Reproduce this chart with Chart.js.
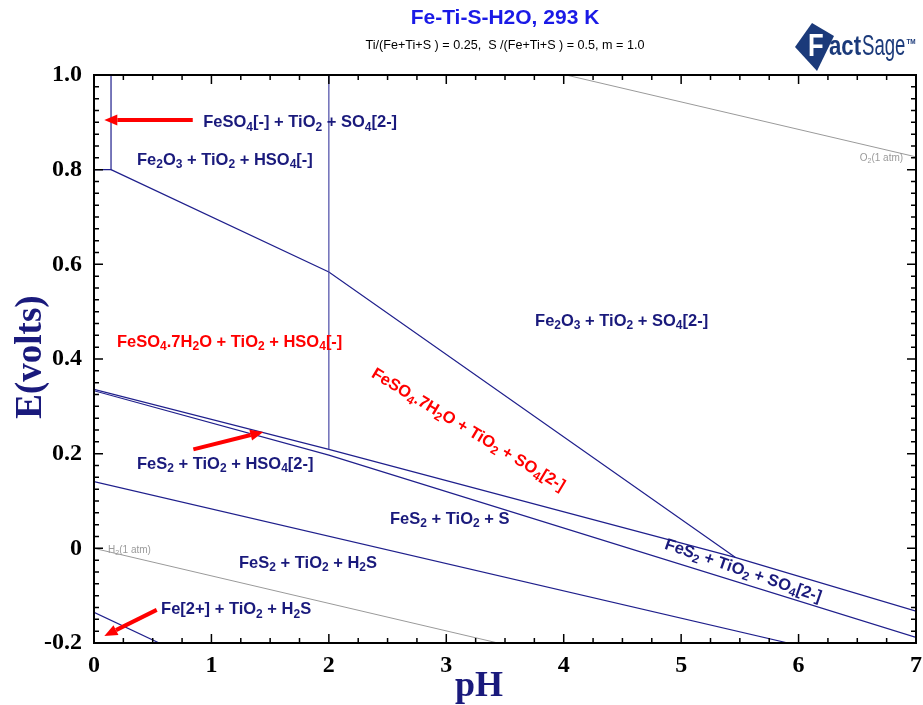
<!DOCTYPE html>
<html>
<head>
<meta charset="utf-8">
<title>Fe-Ti-S-H2O, 293 K</title>
<script src="https://cdn.jsdelivr.net/npm/chart.js@4.4.1/dist/chart.umd.min.js"></script>
<style>
  html, body { margin: 0; padding: 0; background: #fff; }
</style>
</head>
<body>
<canvas id="myChart" width="923" height="705"></canvas>
<script>
const ctx = document.getElementById('myChart');

// phase boundaries as [pH, E] pairs
const fe2o3Corner = [[0, 0.8], [0.145, 0.8], [0.145, 1.0]];
const fe2o3Lower = [[0.145, 0.8], [2.0, 0.584], [5.46, -0.019]];
const hso4Split = [[2.0, 1.0], [2.0, 0.209]];
const pyriteUpper = [[0, 0.336], [2.0, 0.209], [5.46, -0.019], [7.0, -0.1325]];
const pyriteLower = [[0, 0.333], [2.0, 0.197], [7.0, -0.188]];
const sulfurLower = [[0, 0.141], [5.91, -0.2]];
const ferrousLine = [[0, -0.135], [0.555, -0.2]];
const h2Line = [[0, 0], [3.44, -0.2]];
const o2Line = [[4.02, 1.0], [7.0, 0.827]];

// axis ticks
const pHTicks = [0, 1, 2, 3, 4, 5, 6, 7];
const eTicks = [-0.2, 0, 0.2, 0.4, 0.6, 0.8, 1.0];

// field names, {..} marks a subscript
const fieldNames = [
  'FeSO{4}[-] + TiO{2} + SO{4}[2-]',
  'Fe{2}O{3} + TiO{2} + HSO{4}[-]',
  'Fe{2}O{3} + TiO{2} + SO{4}[2-]',
  'FeSO{4}.7H{2}O + TiO{2} + HSO{4}[-]',
  'FeSO{4}.7H{2}O + TiO{2} + SO{4}[2-]',
  'FeS{2} + TiO{2} + HSO{4}[2-]',
  'FeS{2} + TiO{2} + S',
  'FeS{2} + TiO{2} + H{2}S',
  'Fe[2+] + TiO{2} + H{2}S',
  'FeS{2} + TiO{2} + SO{4}[2-]'
];
const fieldPH = [0.93, 0.366, 3.756, 0.196, 3.186, 0.366, 2.521, 1.235, 0.571, 5.528];
const fieldE = [0.899, 0.820, 0.480, 0.436, 0.250, 0.178, 0.062, -0.031, -0.130, -0.048];

// arrows: tail [pH, E] -> tip [pH, E]
const arrowTails = [[0.841, 0.905], [0.846, 0.209], [0.534, -0.130]];
const arrowTips = [[0.088, 0.905], [1.442, 0.246], [0.088, -0.185]];

const NAVY = '#1f1f8c';
const TEXT_NAVY = '#1a1a7c';
const GRAY = '#9a9a9a';
const LOGO = '#1b3a7a';
const SERIF = '"Liberation Serif", "Times New Roman", serif';
const SANS = '"Liberation Sans", Arial, sans-serif';

function series(pts, color, width) {
  return {
    data: pts.map(p => ({ x: p[0], y: p[1] })),
    showLine: true,
    borderColor: color,
    borderWidth: width,
    pointRadius: 0,
    tension: 0
  };
}

// draws text with {sub} pieces
function richText(c, str, x, y, size, color, opts) {
  opts = opts || {};
  const weight = opts.weight || 'bold';
  const big = `${weight} ${size}px ${SANS}`;
  const small = `${weight} ${Math.round(size * 0.7)}px ${SANS}`;
  const parts = str.split(/(\{[^}]*\})/).filter(s => s).map(s =>
    s[0] === '{' ? { t: s.slice(1, -1), sub: true } : { t: s, sub: false });
  c.save();
  c.translate(x, y);
  c.rotate((opts.angle || 0) * Math.PI / 180);
  c.fillStyle = color;
  c.textBaseline = 'middle';
  c.textAlign = 'left';
  let w = 0;
  parts.forEach(p => { c.font = p.sub ? small : big; w += c.measureText(p.t).width; });
  let cx = opts.align === 'center' ? -w / 2 : (opts.align === 'right' ? -w : 0);
  parts.forEach(p => {
    c.font = p.sub ? small : big;
    c.fillText(p.t, cx, p.sub ? size * 0.28 : 0);
    cx += c.measureText(p.t).width;
  });
  c.restore();
}

function arrow(c, x1, y1, x2, y2) {
  const a = Math.atan2(y2 - y1, x2 - x1);
  const head = 13, half = 5.5;
  const bx = x2 - head * Math.cos(a), by = y2 - head * Math.sin(a);
  c.save();
  c.strokeStyle = '#ff0000';
  c.fillStyle = '#ff0000';
  c.lineWidth = 4;
  c.beginPath();
  c.moveTo(x1, y1);
  c.lineTo(bx, by);
  c.stroke();
  c.beginPath();
  c.moveTo(x2, y2);
  c.lineTo(bx + half * Math.sin(a), by - half * Math.cos(a));
  c.lineTo(bx - half * Math.sin(a), by + half * Math.cos(a));
  c.closePath();
  c.fill();
  c.restore();
}

// condensed text piece, returns the drawn width
function squeezed(c, text, x, y, font, sx) {
  c.save();
  c.font = font;
  c.translate(x, y);
  c.scale(sx, 1);
  c.fillText(text, 0, 0);
  c.restore();
  c.font = font;
  return c.measureText(text).width * sx;
}

const diagramDecor = {
  id: 'diagramDecor',
  afterDatasetsDraw(chart) {
    const c = chart.ctx;
    const xs = chart.scales.x, ys = chart.scales.y;
    const a = chart.chartArea;

    // frame with inward ticks
    c.save();
    c.strokeStyle = '#000';
    c.lineWidth = 2;
    c.strokeRect(a.left, a.top, a.right - a.left, a.bottom - a.top);
    c.lineWidth = 1.5;
    c.beginPath();
    for (let i = 0; i <= 28; i++) {
      const px = xs.getPixelForValue(i * 0.25);
      const len = i % 4 === 0 ? 9 : 5;
      c.moveTo(px, a.bottom); c.lineTo(px, a.bottom - len);
      c.moveTo(px, a.top); c.lineTo(px, a.top + len);
    }
    for (let i = 0; i <= 48; i++) {
      const py = ys.getPixelForValue(-0.2 + i * 0.025);
      const len = i % 8 === 0 ? 9 : 5;
      c.moveTo(a.left, py); c.lineTo(a.left + len, py);
      c.moveTo(a.right, py); c.lineTo(a.right - len, py);
    }
    c.stroke();
    c.restore();

    // field names
    fieldNames.forEach((name, i) => {
      const px = xs.getPixelForValue(fieldPH[i]);
      const py = ys.getPixelForValue(fieldE[i]);
      const red = name.indexOf('7H') >= 0;
      const color = red ? '#ff0000' : TEXT_NAVY;
      if (i === 4) richText(c, name, px, py, 16.5, color, { angle: 31, align: 'center' });
      else if (i === 9) richText(c, name, px, py, 16.5, color, { angle: 19, align: 'center' });
      else richText(c, name, px, py, 16.5, color);
    });

    // gas lines
    richText(c, 'H{2}(1 atm)', xs.getPixelForValue(0.12), ys.getPixelForValue(-0.004), 10, GRAY, { weight: 'normal' });
    richText(c, 'O{2}(1 atm)', xs.getPixelForValue(6.89), ys.getPixelForValue(0.824), 10, GRAY, { weight: 'normal', align: 'right' });

    arrowTails.forEach((t, i) => {
      arrow(c, xs.getPixelForValue(t[0]), ys.getPixelForValue(t[1]),
        xs.getPixelForValue(arrowTips[i][0]), ys.getPixelForValue(arrowTips[i][1]));
    });
  },
  afterDraw(chart) {
    const c = chart.ctx;
    c.save();
    c.textAlign = 'center';
    c.textBaseline = 'middle';
    c.fillStyle = '#1a1ae6';
    c.font = `bold 21px ${SANS}`;
    c.fillText('Fe-Ti-S-H2O, 293 K', 505, 18);
    c.fillStyle = '#000';
    c.font = `12.6px "Liberation Sans Narrow", ${SANS}`;
    c.fillText('Ti/(Fe+Ti+S ) = 0.25,  S /(Fe+Ti+S ) = 0.5, m = 1.0', 505, 46);

    // axis names
    c.fillStyle = TEXT_NAVY;
    c.font = `bold 36px ${SERIF}`;
    c.fillText('pH', 479, 687);
    c.save();
    c.translate(31, 357);
    c.rotate(-Math.PI / 2);
    c.font = `bold 37px ${SERIF}`;
    c.fillText('E(volts)', 0, 0);
    c.restore();

    // FactSage logo
    c.fillStyle = LOGO;
    c.beginPath();
    c.moveTo(795, 47);
    c.lineTo(812, 23);
    c.lineTo(834, 36);
    c.lineTo(817, 71);
    c.closePath();
    c.fill();
    c.textAlign = 'left';
    c.textBaseline = 'alphabetic';
    c.save();
    c.translate(808, 56);
    c.scale(0.8, 1);
    c.font = `bold 32px ${SANS}`;
    c.lineWidth = 2.5;
    c.strokeStyle = LOGO;
    c.fillStyle = '#fff';
    c.strokeText('F', 0, 0);
    c.fillText('F', 0, 0);
    c.restore();
    c.fillStyle = LOGO;
    let lx = 829;
    lx += squeezed(c, 'act', lx, 55, `bold 27px ${SANS}`, 0.82);
    lx += squeezed(c, 'Sage', lx + 1, 55, `30px ${SANS}`, 0.62);
    squeezed(c, 'TM', lx + 2, 44, `bold 8px ${SANS}`, 0.8);
    c.restore();
  }
};

new Chart(ctx, {
  type: 'scatter',
  data: {
    datasets: [
      series(h2Line, GRAY, 1),
      series(o2Line, GRAY, 1),
      series(hso4Split, '#4a4aa6', 1.2),
      series(fe2o3Corner, NAVY, 1.2),
      series(fe2o3Lower, NAVY, 1.2),
      series(pyriteUpper, NAVY, 1.2),
      series(pyriteLower, NAVY, 1.2),
      series(sulfurLower, NAVY, 1.2),
      series(ferrousLine, NAVY, 1.2)
    ]
  },
  options: {
    responsive: false,
    animation: false,
    layout: { padding: { top: 75, right: 7, left: 0, bottom: 0 } },
    plugins: {
      legend: { display: false },
      tooltip: { enabled: false },
      title: { display: false }
    },
    scales: {
      x: {
        type: 'linear',
        min: pHTicks[0],
        max: pHTicks[pHTicks.length - 1],
        afterBuildTicks: s => { s.ticks = pHTicks.map(v => ({ value: v })); },
        afterFit: s => { s.height = 62; s.paddingLeft = 0; s.paddingRight = 0; },
        ticks: {
          color: '#000',
          padding: 8,
          maxRotation: 0,
          font: { family: SERIF, size: 24, weight: 'bold' },
          callback: v => String(v)
        },
        grid: { display: false, drawTicks: false },
        border: { display: false }
      },
      y: {
        type: 'linear',
        min: eTicks[0],
        max: eTicks[eTicks.length - 1],
        afterBuildTicks: s => { s.ticks = eTicks.map(v => ({ value: v })); },
        afterFit: s => { s.width = 94; s.paddingTop = 0; s.paddingBottom = 0; },
        ticks: {
          color: '#000',
          padding: 12,
          font: { family: SERIF, size: 24, weight: 'bold' },
          callback: v => (Math.abs(v) < 1e-9 ? '0' : v.toFixed(1))
        },
        grid: { display: false, drawTicks: false },
        border: { display: false }
      }
    }
  },
  plugins: [diagramDecor]
});
</script>
</body>
</html>
